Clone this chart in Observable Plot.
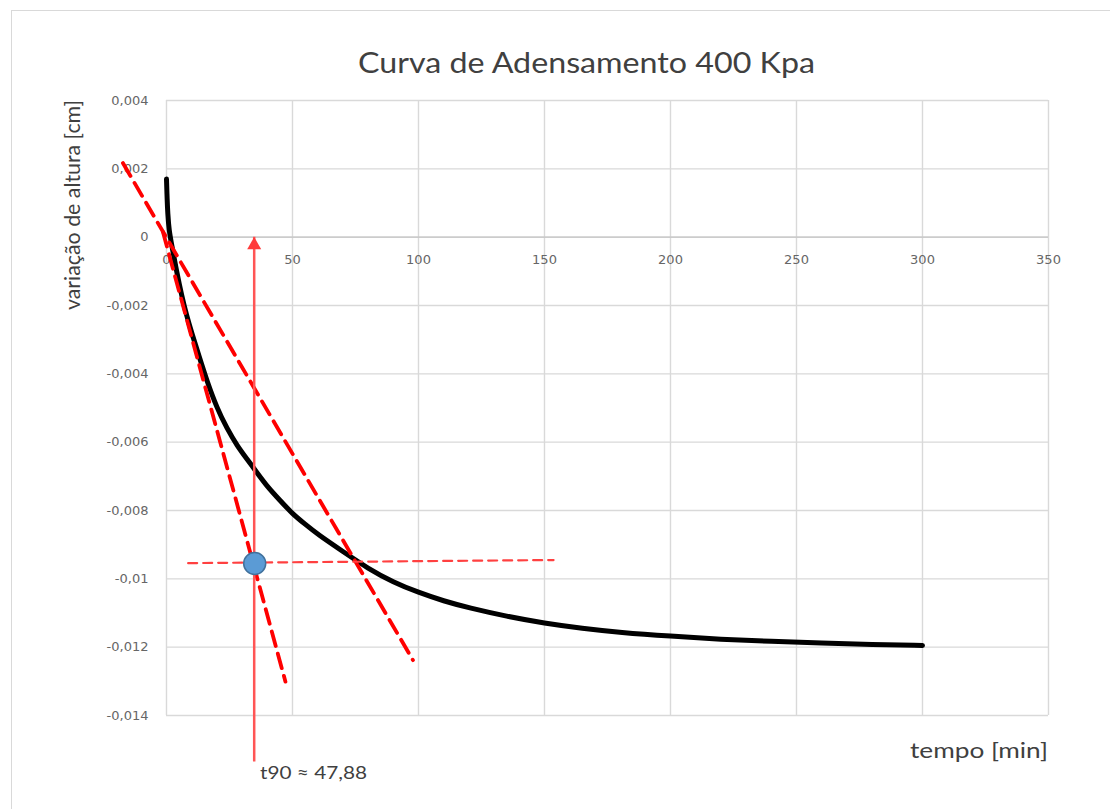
<!DOCTYPE html>
<html>
<head>
<meta charset="utf-8">
<script src="https://cdn.jsdelivr.net/npm/d3@7"></script>
<script src="https://cdn.jsdelivr.net/npm/@observablehq/plot@0.6"></script>
<style>
  html, body { margin: 0; padding: 0; background: #fff; overflow: hidden; }
  #wrap { position: relative; width: 1110px; height: 809px; overflow: hidden; }
  #border { position: absolute; left: 11px; top: 10px; width: 1300px; height: 1000px; border: 1.5px solid #d9d9d9; }
  #chart { position: absolute; left: 0; top: 0; }
  #labels { position: absolute; left: 0; top: 0; pointer-events: none; overflow: visible; }
  #labels text { font-family: Lato, "Open Sans", sans-serif; fill: #404040; }
</style>
</head>
<body>
<div id="wrap">
  <div id="border"></div>
  <div id="chart"></div>
  <svg id="labels" width="1110" height="809"></svg>
</div>
<script>
// ---- data ----
const titleText = "Curva de Adensamento 400 Kpa";
const yLabelText = "variação de altura [cm]";
const xLabelText = "tempo [min]";
const t90Text = "t90 ≈ 47,88";

const xTicks = [0, 50, 100, 150, 200, 250, 300, 350];
const xTickLabels = ["0", "50", "100", "150", "200", "250", "300", "350"];
const yTicks = [0.004, 0.002, 0, -0.002, -0.004, -0.006, -0.008, -0.01, -0.012, -0.014];
const yTickLabels = ["0,004", "0,002", "0", "-0,002", "-0,004", "-0,006", "-0,008", "-0,01", "-0,012", "-0,014"];

// consolidation curve: time [min] and height change [cm]
const curveT = [0, 0.25, 0.5, 1, 2, 4, 6, 8, 10, 13, 16, 20, 24, 28, 32, 36, 40, 45, 50, 55, 60, 70, 80, 90, 100, 110, 120, 135, 150, 165, 180, 200, 220, 240, 260, 280, 300];
const curveY = [0.0017, 0.0011, 0.0007, 0.0002, -0.0002, -0.0010, -0.0017, -0.0023, -0.0028, -0.0035, -0.0042, -0.0050, -0.0056, -0.0061, -0.0065, -0.0069, -0.0073, -0.0077, -0.0081, -0.0084, -0.0087, -0.0092, -0.0097, -0.0101, -0.0104, -0.01065, -0.01085, -0.0111, -0.0113, -0.01145, -0.01157, -0.01168, -0.01177, -0.01183, -0.01188, -0.01192, -0.01195];

// construction lines (dashed)
const lineAT = [-17.3, 97.8];
const lineAY = [0.00217, -0.01238];
const lineBT = [-1.4, 47.2];
const lineBY = [0.00015, -0.01301];
const hLineT = [8.6, 153.6];
const hLineY = [-0.00954, -0.00945];

// vertical t90 marker and point
const vertT = [34.8];
const vertY1 = [-0.01536];
const vertY2 = [0];
const pointT = [35];
const pointY = [-0.00955];

// ---- build ----
const zip = (ts, ys) => ts.map((t, i) => ({t, y: ys[i]}));
const curve = zip(curveT, curveY);
const lineA = zip(lineAT, lineAY);
const lineB = zip(lineBT, lineBY);
const hLine = zip(hLineT, hLineY);
const vert = vertT.map((t, i) => ({t, y1: vertY1[i], y2: vertY2[i]}));
const point = zip(pointT, pointY);
const xLabs = xTicks.map((t, i) => ({t, lab: xTickLabels[i]}));

const chart = Plot.plot({
  width: 1110,
  height: 809,
  marginLeft: 166,
  marginRight: 62,
  marginTop: 100,
  marginBottom: 94,
  x: {domain: [0, 350], axis: null},
  y: {domain: [-0.014, 0.004]},
  style: {fontFamily: "DejaVu Sans", fontSize: "13px", color: "#595959", background: "transparent", overflow: "visible"},
  marks: [
    Plot.gridX(xTicks, {stroke: "#d9d9d9", strokeOpacity: 1, strokeWidth: 1.4}),
    Plot.gridY(yTicks, {stroke: "#d9d9d9", strokeOpacity: 1, strokeWidth: 1.4}),
    Plot.ruleY([0], {stroke: "#c4c4c4", strokeWidth: 1.4}),
    Plot.axisY(yTicks, {tickSize: 0, tickPadding: 18, label: null, fill: "#666666",
      tickFormat: d => yTickLabels[yTicks.indexOf(d)]}),
    Plot.text(xLabs, {x: "t", y: () => 0, text: "lab", dy: 23, fill: "#666666"}),
    Plot.line(curve, {x: "t", y: "y", stroke: "#000", strokeWidth: 5, curve: "basis", strokeLinejoin: "round"}),
    Plot.line(lineA, {x: "t", y: "y", stroke: "#ff0000", strokeWidth: 3.8, strokeDasharray: "15,8"}),
    Plot.line(lineB, {x: "t", y: "y", stroke: "#ff0000", strokeWidth: 3.8, strokeDasharray: "15,8"}),
    Plot.line(hLine, {x: "t", y: "y", stroke: "#ff4040", strokeWidth: 2.2, strokeDasharray: "9,6"}),
    Plot.ruleX(vert, {x: "t", y1: "y1", y2: "y2", stroke: "#ff5555", strokeWidth: 2.5}),
    Plot.dot(vert, {x: "t", y: "y2", symbol: "triangle", r: 5.2, fill: "#ff3b3b", stroke: "none", dy: 8}),
    Plot.dot(point, {x: "t", y: "y", r: 11, fill: "#5b9bd5", stroke: "#41719c", strokeWidth: 1.5})
  ]
});
document.getElementById("chart").appendChild(chart);

// ---- text labels, stretched to the reference widths ----
const svg = d3.select("#labels");
function addText(txt, opts) {
  const t = svg.append("text")
    .attr("font-size", opts.size)
    .attr("textLength", opts.len)
    .attr("lengthAdjust", "spacingAndGlyphs")
    .text(txt);
  if (opts.rotate) t.attr("transform", `translate(${opts.x},${opts.y}) rotate(-90)`);
  else t.attr("x", opts.x).attr("y", opts.y);
  return t;
}
addText(titleText, {x: 358, y: 73, size: 28, len: 457});
addText(yLabelText, {x: 80, y: 310, size: 22, len: 210, rotate: true});
addText(xLabelText, {x: 910, y: 758, size: 21, len: 138});
addText(t90Text, {x: 260, y: 779, size: 18, len: 107});
</script>
</body>
</html>
